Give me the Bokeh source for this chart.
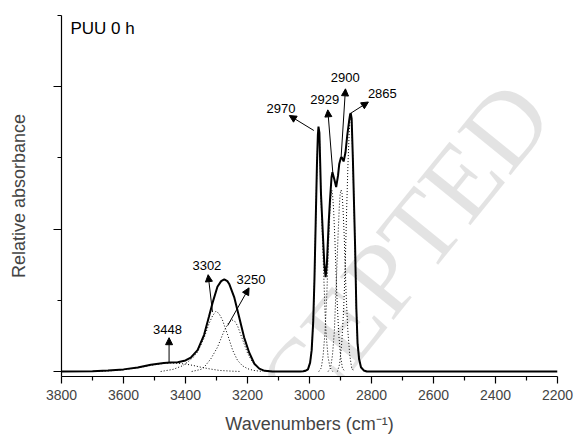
from bokeh.plotting import figure
from bokeh.models import Range1d, FixedTicker, Arrow, NormalHead, Label, CustomJSTickFormatter
from bokeh.core.properties import value
from bokeh.embed import file_html
from bokeh.resources import INLINE

# Measured spectrum (wavenumber in cm-1, relative absorbance)
sum_wn = [3800, 3700, 3650, 3600, 3554, 3512, 3470, 3448, 3425, 3400, 3383, 3361,
          3340, 3324, 3313, 3297, 3285, 3275, 3265, 3259, 3243, 3227, 3211, 3195,
          3178, 3162, 3145, 3120, 3030, 3020, 3011, 3005, 2998, 2993, 2988, 2984,
          2980, 2976, 2973, 2971, 2968, 2963, 2956, 2952, 2948, 2944, 2938, 2934,
          2929, 2926, 2920, 2914, 2908, 2904, 2899, 2896, 2890, 2884, 2878, 2872,
          2869, 2867, 2864, 2860, 2853, 2849, 2845, 2840, 2834, 2825, 2815, 2800, 2200]
sum_abs = [0, 0.001, 0.003, 0.006, 0.011, 0.019, 0.024, 0.025, 0.026, 0.031, 0.039, 0.060,
           0.103, 0.155, 0.192, 0.238, 0.254, 0.259, 0.254, 0.246, 0.209, 0.153, 0.096, 0.054,
           0.022, 0.008, 0.002, 0, 0, 0.001, 0.003, 0.006, 0.025, 0.06, 0.14, 0.26,
           0.42, 0.58, 0.665, 0.688, 0.67, 0.50, 0.37, 0.30, 0.265, 0.30, 0.42, 0.48,
           0.545, 0.56, 0.54, 0.518, 0.55, 0.583, 0.600, 0.602, 0.59, 0.615, 0.665, 0.705,
           0.722, 0.726, 0.71, 0.595, 0.355, 0.18, 0.08, 0.035, 0.012, 0.003, 0, 0, 0]

# Fitted component bands
c3448_wn = [3680, 3640, 3600, 3550, 3500, 3470, 3448, 3425, 3400, 3375, 3350, 3320, 3290, 3250, 3220]
c3448_abs = [0, 0.002, 0.005, 0.011, 0.019, 0.023, 0.024, 0.023, 0.021, 0.017, 0.012, 0.007, 0.003, 0.001, 0]

c3302_wn = [3480, 3440, 3410, 3394, 3375, 3361, 3340, 3324, 3313, 3302, 3292, 3281,
            3264, 3248, 3232, 3216, 3200, 3180, 3150]
c3302_abs = [0, 0.006, 0.016, 0.026, 0.040, 0.055, 0.094, 0.135, 0.156, 0.169, 0.163, 0.145,
             0.103, 0.060, 0.031, 0.016, 0.008, 0.003, 0]

c3250_wn = [3380, 3350, 3340, 3318, 3297, 3275, 3260, 3250, 3240, 3232, 3216, 3200,
            3184, 3168, 3150, 3120]
c3250_abs = [0, 0.006, 0.012, 0.036, 0.068, 0.115, 0.138, 0.145, 0.140, 0.128, 0.090, 0.052,
             0.026, 0.012, 0.004, 0]

c2970_wn = [3015, 3005, 2998, 2993, 2988, 2984, 2980, 2976, 2973, 2971, 2968, 2963,
            2956, 2950, 2946, 2940, 2934, 2925]
c2970_abs = [0, 0.005, 0.025, 0.06, 0.14, 0.26, 0.42, 0.58, 0.66, 0.683, 0.665, 0.49,
             0.32, 0.17, 0.10, 0.04, 0.012, 0]

c2929_wn = [2970, 2962, 2956, 2950, 2944, 2938, 2934, 2931, 2928, 2925, 2922, 2918,
            2912, 2906, 2900, 2894, 2886]
c2929_abs = [0, 0.01, 0.045, 0.11, 0.22, 0.37, 0.45, 0.49, 0.51, 0.49, 0.45, 0.37,
             0.22, 0.11, 0.045, 0.01, 0]

c2900_wn = [2940, 2932, 2926, 2920, 2914, 2908, 2904, 2901, 2898, 2895, 2892, 2888,
            2882, 2876, 2870, 2864, 2856]
c2900_abs = [0, 0.01, 0.045, 0.11, 0.24, 0.38, 0.46, 0.50, 0.51, 0.50, 0.46, 0.38,
             0.22, 0.11, 0.045, 0.01, 0]

c2865_wn = [2910, 2903, 2896, 2890, 2885, 2880, 2876, 2872, 2869, 2867, 2864, 2860,
            2853, 2849, 2845, 2840, 2834, 2825, 2815]
c2865_abs = [0, 0.02, 0.08, 0.17, 0.29, 0.46, 0.58, 0.67, 0.71, 0.72, 0.70, 0.59,
             0.35, 0.18, 0.08, 0.035, 0.012, 0.003, 0]

components = [(c3448_wn, c3448_abs), (c3302_wn, c3302_abs), (c3250_wn, c3250_abs),
              (c2970_wn, c2970_abs), (c2929_wn, c2929_abs), (c2900_wn, c2900_abs),
              (c2865_wn, c2865_abs)]

# Band assignments written next to the arrows
band_labels = ["3448", "3302", "3250", "2970", "2929", "2900", "2865"]

# Callout geometry: arrow tail, arrow tip, text centre (data units)
arrow_tail_x = [3453, 3313, 3264, 2986, 2925, 2898, 2866]
arrow_tail_y = [0.026, 0.167, 0.129, 0.677, 0.560, 0.602, 0.726]
arrow_tip_x = [3453, 3327, 3195, 3065, 2941, 2884, 2810]
arrow_tip_y = [0.095, 0.272, 0.235, 0.719, 0.735, 0.794, 0.757]
text_x = [3458, 3331, 3189, 3092, 2951, 2885, 2765]
text_y = [0.118, 0.299, 0.259, 0.739, 0.765, 0.825, 0.780]

x_major = [3800, 3600, 3400, 3200, 3000, 2800, 2600, 2400, 2200]
x_minor = [3700, 3500, 3300, 3100, 2900, 2700, 2500, 2300]

FONT = "Liberation Sans"

p = figure(width=576, height=442, output_backend="svg", toolbar_location=None,
           x_range=Range1d(3800, 2200), y_range=Range1d(-0.014, 1.0),
           min_border_left=61, min_border_right=19, min_border_top=15, min_border_bottom=66)
p.outline_line_color = None
p.grid.visible = False
p.background_fill_color = "white"
p.border_fill_color = "white"

for wn, ab in components:
    p.line(wn, ab, line_color="black", line_width=1, line_dash="1 2")
p.line(sum_wn, sum_abs, line_color="black", line_width=2)

# faint diagonal stamp; translucent black so the black strokes beneath stay black
p.add_layout(Label(x=2695, y=0.34, text="CEPTED", angle=0.89,
                   text_font="Liberation Serif", text_font_size="105px",
                   text_color="black", text_alpha=0.11,
                   text_align="center", text_baseline="middle",
                   level="overlay"))

for i in range(len(band_labels)):
    p.add_layout(Arrow(x_start=arrow_tail_x[i], y_start=arrow_tail_y[i],
                       x_end=arrow_tip_x[i], y_end=arrow_tip_y[i],
                       line_color="black", line_width=1,
                       end=NormalHead(size=7, fill_color="black", line_color="black", line_width=1)))
p.text(x=text_x, y=text_y, text=band_labels, text_font=value(FONT), text_font_size="13px",
       text_align="center", text_baseline="middle", text_color="black")

p.add_layout(Label(x=3771, y=0.963, text="PUU 0 h", text_font=FONT, text_font_size="17px",
                   text_align="left", text_baseline="middle", text_color="black"))

xa = p.xaxis[0]
xa.ticker = FixedTicker(ticks=x_major, minor_ticks=x_minor)
xa.axis_label = "Wavenumbers (cm\u207b\u00b9)"
xa.axis_label_text_font = FONT
xa.axis_label_text_font_style = "normal"
xa.axis_label_text_font_size = "18px"
xa.axis_label_standoff = 11
xa.major_label_text_font = FONT
xa.major_label_text_font_size = "14px"
xa.major_label_standoff = 6
xa.major_tick_out = 7
xa.major_tick_in = 0
xa.minor_tick_out = 4
xa.minor_tick_in = 0
xa.axis_line_width = 1.2
xa.major_tick_line_width = 1.2
xa.minor_tick_line_width = 1.2

ya = p.yaxis[0]
ya.ticker = FixedTicker(ticks=[0, 0.4, 0.8], minor_ticks=[0.2, 0.6, 1.0])
ya.formatter = CustomJSTickFormatter(code="return ''")
ya.axis_label = "Relative absorbance"
ya.axis_label_text_font = FONT
ya.axis_label_text_font_style = "normal"
ya.axis_label_text_font_size = "18px"
ya.axis_label_standoff = 25
ya.major_label_standoff = 0
ya.major_tick_out = 8
ya.major_tick_in = 0
ya.minor_tick_out = 4
ya.minor_tick_in = 0
ya.axis_line_width = 1.2
ya.major_tick_line_width = 1.2
ya.minor_tick_line_width = 1.2

open("out.html", "w").write(file_html(p, INLINE))
